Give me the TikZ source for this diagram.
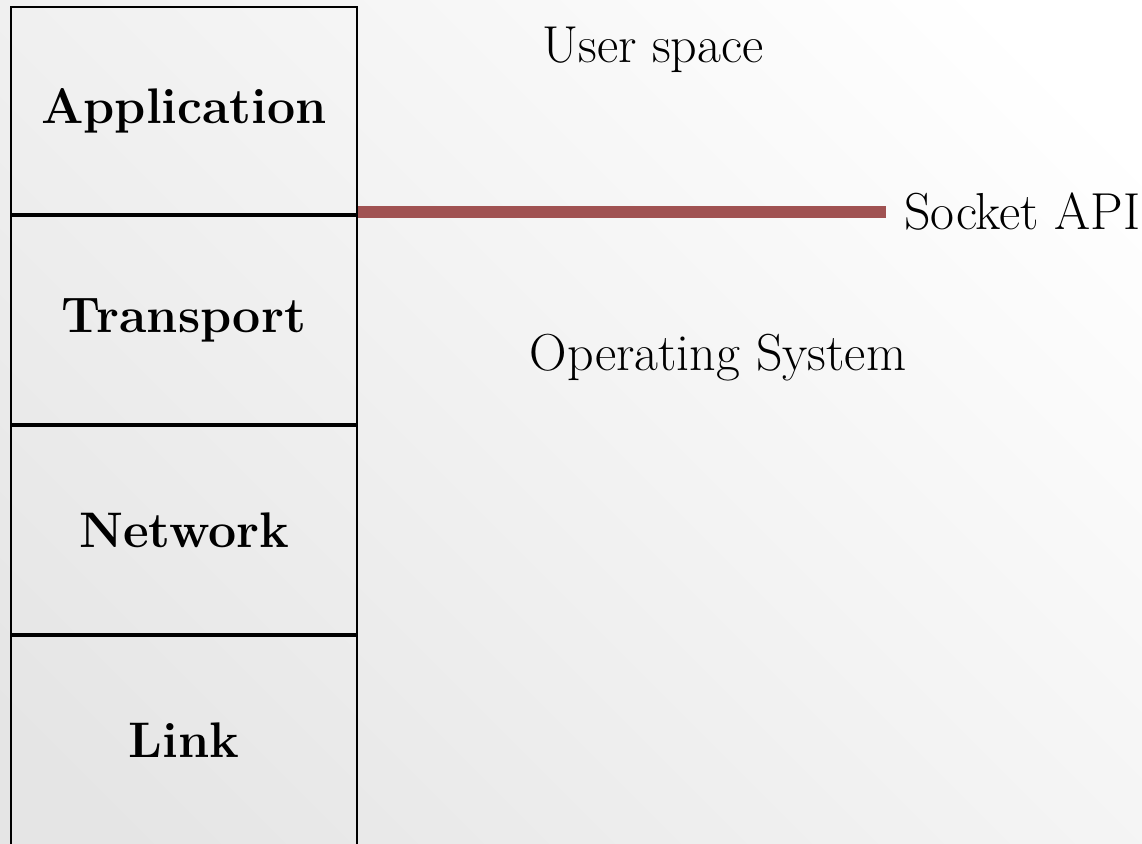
\documentclass[tikz,border=0pt]{standalone}
\usetikzlibrary{positioning}
\definecolor{apired}{HTML}{A05252}
\begin{document}
\begin{tikzpicture}[x=1pt,y=-1pt,
  layer/.style={draw=black,line width=2pt,minimum width=346pt,minimum height=208pt,inner sep=0pt,
    font=\fontsize{50}{60}\selectfont\bfseries},
  lbl/.style={inner sep=0pt,font=\fontsize{52}{62}\selectfont}]
\useasboundingbox (0,0) rectangle (1142,843);
\shade[shading=axis,bottom color=black!10,top color=white,shading angle=-45] (-100,-100) rectangle (1242,943);
\clip (0,0) rectangle (1142,843);
\node[layer,minimum height=207pt] (app) at (184,110.5) {Application};
\node[layer,below=0pt of app] (tra) {Transport};
\node[layer,below=0pt of tra] (net) {Network};
\node[layer,below=0pt of net,minimum height=240pt,text depth=32pt] (lnk) {Link};
\coordinate (apiend) at (886,212);
\draw[apired,line width=12pt] (app.south east |- apiend) -- (apiend);
\node[lbl,anchor=west] (api) at (904,212) {Socket API};
\node[lbl] (user) at (653,50) {User space};
\node[lbl] (os) at (718,358) {Operating System};
\end{tikzpicture}
\end{document}
